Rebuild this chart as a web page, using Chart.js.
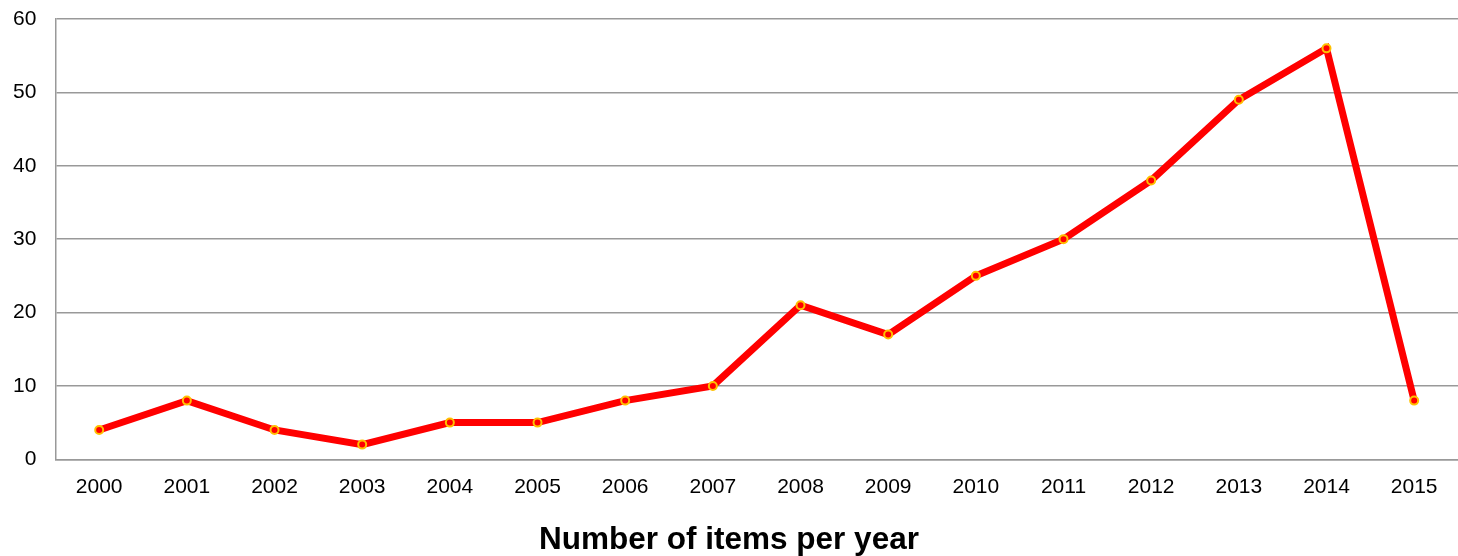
<!DOCTYPE html>
<html>
<head>
<meta charset="utf-8">
<script src="https://cdn.jsdelivr.net/npm/chart.js@4"></script>
<style>
  html, body { margin: 0; padding: 0; background: #fff; overflow: hidden; }
  #wrap { width: 1458px; height: 556px; }
</style>
</head>
<body>
<div id="wrap"><canvas id="itemsChart"></canvas></div>
<script>
const years = ['2000', '2001', '2002', '2003', '2004', '2005', '2006', '2007',
               '2008', '2009', '2010', '2011', '2012', '2013', '2014', '2015'];
const items = [4, 8, 4, 2, 5, 5, 8, 10, 21, 17, 25, 30, 38, 49, 56, 8];
const yTicks = [0, 10, 20, 30, 40, 50, 60];

const ctx = document.getElementById('itemsChart').getContext('2d');

new Chart(ctx, {
    type: 'line',
    data: {
        labels: years,
        datasets: [{
            data: items,
            borderColor: '#ff0000',
            borderWidth: 7,
            tension: 0,
            pointRadius: 4,
            pointBorderWidth: 2,
            pointBackgroundColor: '#ff0000',
            pointBorderColor: '#ffc000'
        }]
    },
    options: {
        responsive: true,
        maintainAspectRatio: false,
        animation: false,
        layout: {
            autoPadding: false,
            padding: { top: 0, right: 0, left: 0, bottom: 0 }
        },
        plugins: {
            legend: { display: false },
            tooltip: { enabled: false },
            title: {
                display: true,
                position: 'bottom',
                text: 'Number of items per year',
                color: '#000',
                font: { family: '"Liberation Sans", Arial, sans-serif', size: 31.5, weight: 'bold', lineHeight: 1 },
                padding: { top: 10, bottom: 0 }
            }
        },
        scales: {
            x: {
                offset: true,
                afterFit: axis => { axis.paddingLeft = 0; axis.paddingRight = 0; },
                grid: { display: false, drawTicks: false },
                border: { color: '#999', width: 1.5 },
                ticks: {
                    color: '#000',
                    padding: 15,
                    maxRotation: 0,
                    font: { family: '"Liberation Sans", Arial, sans-serif', size: 21 }
                }
            },
            y: {
                min: 0,
                max: 60,
                afterBuildTicks: axis => { axis.ticks = yTicks.map(v => ({ value: v })); },
                afterFit: axis => {
                    axis.paddingTop = 19;
                    axis.paddingBottom = 0;
                    axis.width -= 6;
                },
                grid: { color: '#999', lineWidth: 1.5, drawTicks: false },
                border: { color: '#999', width: 1.5 },
                ticks: {
                    color: '#000',
                    padding: 19,
                    font: { family: '"Liberation Sans", Arial, sans-serif', size: 21 }
                }
            }
        }
    }
});
</script>
</body>
</html>
